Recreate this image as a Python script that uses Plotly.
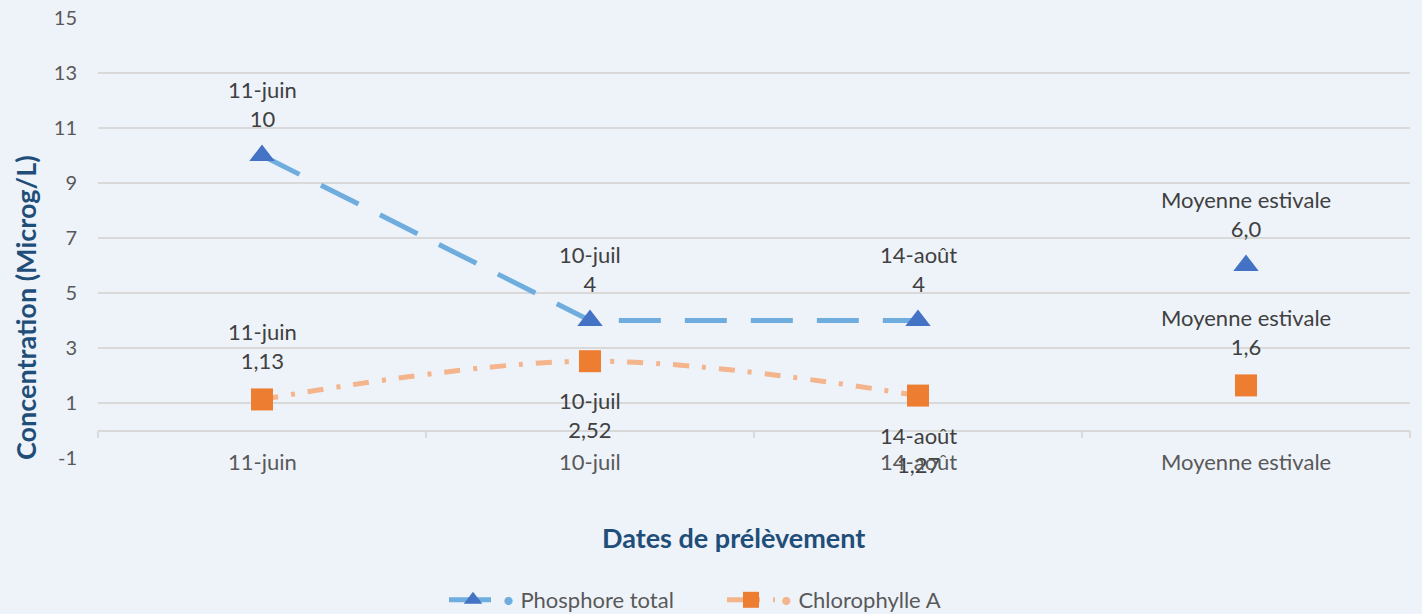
import plotly.graph_objects as go

# ---- data ----
categories = ["11-juin", "10-juil", "14-août"]
avg_category = "Moyenne estivale"
phosphore = [10, 4, 4]
phosphore_avg = 6.0
chloro = [1.13, 2.52, 1.27]
chloro_avg = 1.64
phosphore_labels = ["10", "4", "4"]
phosphore_avg_label = "6,0"
chloro_labels = ["1,13", "2,52", "1,27"]
chloro_avg_label = "1,6"
y_ticks = [-1, 1, 3, 5, 7, 9, 11, 13, 15]
y_tick_text = ["-1", "1", "3", "5", "7", "9", "11", "13", "15"]
series_names = ["Phosphore total", "Chlorophylle A"]

all_cats = categories + [avg_category]

FONT = "Lato, Carlito, Calibri, sans-serif"
BG = "#EEF3FA"
GRID = "#D9D9D9"
BLUE_L = "#6FADDF"
ORANGE_L = "#F4B48C"

blue_line = dict(color=BLUE_L, width=5, dash="42px,24px")
blue_marker = dict(symbol="triangle-up", size=22, color="#4472C4")
orange_line = dict(color=ORANGE_L, width=5, dash="16px,13px,4px,13px", shape="spline")
orange_marker = dict(symbol="square", size=22, color="#ED7D31")


def legend_name(name, color):
    return f'<span style="color:{color}">•</span> {name}'


fig = go.Figure()
fig.add_trace(go.Scatter(x=categories, y=phosphore, mode="lines+markers",
                         name=legend_name(series_names[0], BLUE_L),
                         line=blue_line, marker=blue_marker))
fig.add_trace(go.Scatter(x=[avg_category], y=[phosphore_avg], mode="markers",
                         name=series_names[0], marker=blue_marker, showlegend=False))
fig.add_trace(go.Scatter(x=categories, y=chloro, mode="lines+markers",
                         name=legend_name(series_names[1], ORANGE_L),
                         line=orange_line, marker=orange_marker))
fig.add_trace(go.Scatter(x=[avg_category], y=[chloro_avg], mode="markers",
                         name=series_names[1], marker=orange_marker, showlegend=False))

annotations = []
label_font = dict(family=FONT, size=22, color="#404040")

# phosphore labels (all above)
for c, v, t in zip(all_cats, phosphore + [phosphore_avg], phosphore_labels + [phosphore_avg_label]):
    annotations.append(dict(x=c, y=v, xref="x", yref="y", text=f"{c}<br>{t}", showarrow=False,
                            yanchor="middle", yshift=52, font=label_font))
# chlorophylle labels
chloro_shifts = [53, -54, -54, 53]
for c, v, t, s in zip(all_cats, chloro + [chloro_avg], chloro_labels + [chloro_avg_label], chloro_shifts):
    annotations.append(dict(x=c, y=v, xref="x", yref="y", text=f"{c}<br>{t}", showarrow=False,
                            yanchor="middle", yshift=s, font=label_font))

# category labels
for c in all_cats:
    annotations.append(dict(x=c, y=-1, xref="x", yref="y", text=c, showarrow=False,
                            yanchor="middle", yshift=-3,
                            font=dict(family=FONT, size=22, color="#595959")))

# axis titles
annotations.append(dict(x=(733 - 98) / 1312, y=(458 - 537) / 440, xref="paper", yref="paper",
                        text="<b>Dates de prélèvement</b>", showarrow=False,
                        xanchor="center", yanchor="middle",
                        font=dict(family=FONT, size=27, color="#1F4E79")))
annotations.append(dict(x=(25 - 98) / 1312, y=(458 - 308) / 440, xref="paper", yref="paper",
                        text="<b>Concentration (Microg/L)</b>", showarrow=False, textangle=-90,
                        xanchor="center", yanchor="middle",
                        font=dict(family=FONT, size=27, color="#1F4E79")))

fig.update_layout(
    width=1422, height=614,
    margin=dict(l=98, r=12, t=18, b=156, autoexpand=False),
    paper_bgcolor=BG, plot_bgcolor=BG,
    font=dict(family=FONT, size=20, color="#595959"),
    showlegend=True,
    legend=dict(orientation="h", xref="container", yref="container",
                x=722 / 1422, xanchor="center",
                y=1 - 600 / 614, yanchor="middle",
                font=dict(family=FONT, size=22, color="#595959"),
                bgcolor="rgba(0,0,0,0)", itemwidth=48,
                entrywidth=215, entrywidthmode="pixels"),
    annotations=annotations,
    xaxis=dict(type="category", categoryorder="array", categoryarray=all_cats,
               range=[-0.5, 3.5], showgrid=False, showticklabels=False,
               anchor="free", position=1 / 16, showline=True, linecolor=GRID, linewidth=1.5,
               ticks="outside", tickson="boundaries", ticklen=7, tickcolor=GRID, tickwidth=1.5,
               zeroline=False, automargin=False),
    yaxis=dict(range=[-1, 15], tickvals=y_ticks, ticktext=y_tick_text,
               showgrid=True, gridcolor=GRID, gridwidth=1.5,
               zeroline=False, showline=False, ticks="", ticklabelstandoff=20,
               automargin=False,
               tickfont=dict(family=FONT, size=20, color="#595959")),
    hovermode=False,
)

fig.write_html(
    "out.html",
    config={"displayModeBar": False},
    post_script="document.body.style.margin='0';document.body.style.overflow='hidden';"
                "document.documentElement.style.overflow='hidden';",
)
